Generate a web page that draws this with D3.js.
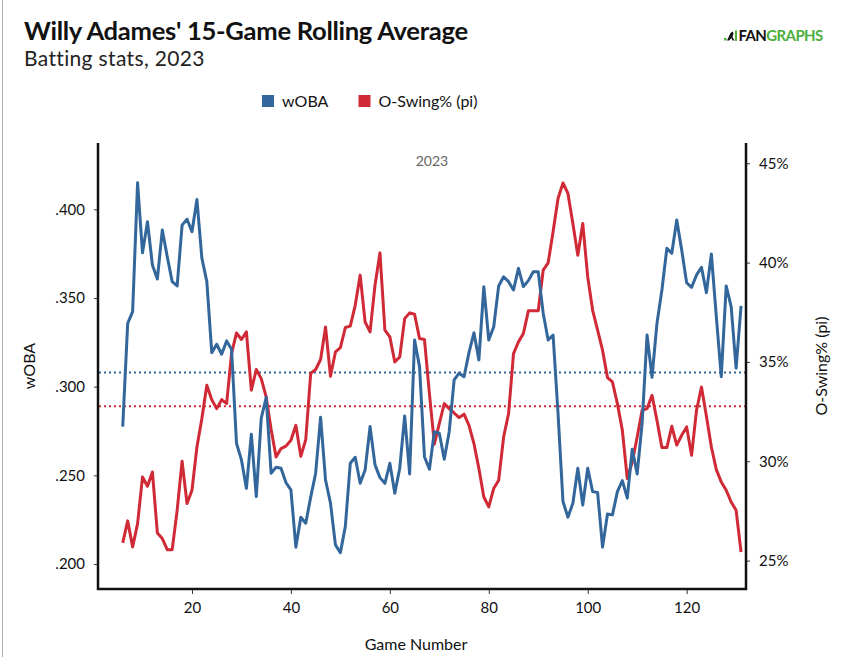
<!DOCTYPE html>
<html>
<head>
<meta charset="utf-8">
<script src="https://cdn.jsdelivr.net/npm/d3@7"></script>
<style>
  html, body { margin: 0; padding: 0; background: #fff; }
  svg { display: block; font-family: Lato, "Open Sans", sans-serif; }
</style>
</head>
<body>
<svg id="chart" width="849" height="657"></svg>
<script>
// ---- Data ----
const games = d3.range(6, 132); // games 6..131
const woba = [
  .2775, .3357, .3423, .415, .3755, .393, .3686, .3607, .3883, .3733,
  .3592, .3568, .3911, .3944, .3874, .4056, .3724, .3592, .3192, .3239,
  .3183, .3258, .3211, .2681, .2587, .2427, .2732, .238, .2822, .294,
  .2512, .2546, .254, .2459, .2418, .2095, .2264, .223, .2377, .2512,
  .2827, .2474, .2343, .2108, .2064, .2211, .2568, .2602, .2455, .253,
  .2775, .2559, .2487, .2455, .2568, .2399, .254, .2835, .2508, .3263,
  .3113, .2605, .2534, .2746, .2737, .2591, .2746, .3038, .3076, .3056,
  .3192, .3304, .3151, .3564, .3263, .3338, .3568, .362, .3592, .3545,
  .3667, .3564, .3598, .3648, .3648, .3414, .3263, .3291, .285, .2352,
  .2264, .2343, .254, .2333, .254, .2408, .2403, .2095, .2282, .2277,
  .2408, .247, .2371, .2647, .2508, .2794, .3291, .3053, .3357, .3545,
  .378, .3752, .394, .3771, .3586, .356, .363, .3673, .353, .3748,
  .3395, .3056, .3568, .3451, .3104, .3455
];
const oswing = [
  25.89, 27.0, 25.69, 26.86, 29.21, 28.74, 29.46, 26.39, 26.11, 25.55,
  25.55, 27.53, 30.0, 27.87, 28.54, 30.72, 32.15, 33.83, 33.1, 32.65,
  33.1, 32.9, 35.42, 36.46, 36.13, 36.51, 33.58, 34.62, 34.16, 33.24,
  31.6, 30.22, 30.64, 30.76, 31.06, 31.81, 30.25, 31.09, 34.42, 34.62,
  35.12, 36.76, 34.28, 35.5, 35.72, 36.73, 36.8, 37.85, 39.37, 37.01,
  36.51, 38.86, 40.49, 36.6, 36.26, 35.0, 35.25, 37.18, 37.47, 37.4,
  36.18, 36.13, 33.41, 30.86, 31.9, 32.9, 32.65, 32.43, 32.2, 32.37,
  31.81, 30.89, 29.63, 28.2, 27.7, 28.63, 29.04, 31.22, 32.4, 35.42,
  36.01, 36.43, 37.57, 37.57, 37.57, 39.62, 39.99, 41.55, 43.23, 44.01,
  43.48, 41.97, 40.37, 41.97, 39.28, 37.6, 36.6, 35.59, 34.21, 33.99,
  32.9, 31.56, 29.13, 29.96, 31.22, 32.57, 32.65, 33.32, 32.06, 30.69,
  30.69, 31.76, 30.81, 31.31, 31.73, 30.3, 32.57, 33.74, 32.27, 30.72,
  29.58, 28.96, 28.54, 27.95, 27.53, 25.43
];
const wobaAvg = 0.308;
const oswingAvg = 32.77;
const xTicks = [20, 40, 60, 80, 100, 120];
const leftTicks = [0.200, 0.250, 0.300, 0.350, 0.400];
const rightTicks = [25, 30, 35, 40, 45];
const seriesNames = ["wOBA", "O-Swing% (pi)"];

// ---- Styles ----
const BLUE = "#33679b";
const RED = "#d02a37";
const GREEN = "#4caf3c";
const svg = d3.select("#chart");

// left grey border
svg.append("line").attr("x1", 2.5).attr("x2", 2.5).attr("y1", 0).attr("y2", 657)
  .attr("stroke", "#aaa").attr("stroke-width", 1);

// ---- Scales ----
const x = d3.scaleLinear().domain([1, 132]).range([98, 746]);
const yL = d3.scaleLinear().domain([0.1859, 0.4374]).range([589, 143]);
const yR = d3.scaleLinear().domain([23.57, 46.02]).range([589, 143]);

// ---- Titles ----
svg.append("text").attr("x", 24).attr("y", 40)
  .attr("font-size", 25.6).attr("font-weight", "bold").attr("fill", "#111")
  .attr("letter-spacing", -0.3)
  .text("Willy Adames' 15-Game Rolling Average");
svg.append("text").attr("x", 24).attr("y", 66)
  .attr("font-size", 21).attr("fill", "#222").attr("letter-spacing", 0.35)
  .text("Batting stats, 2023");

// FanGraphs logo
const logo = svg.append("g").attr("transform", "translate(724,29)");
logo.append("rect").attr("x", 0).attr("y", 9).attr("width", 2.5).attr("height", 2.5).attr("fill", GREEN);
logo.append("path").attr("d", "M3,11.5 L6.5,4 L8.5,2.5 L9.5,4.5 L8.5,8 L10.5,11.5 L8.5,11.5 L7.3,9 L5.3,11.5 Z").attr("fill", "#111");
logo.append("rect").attr("x", 11).attr("y", 1.5).attr("width", 2).attr("height", 10.5).attr("fill", GREEN);
const lt = logo.append("text").attr("x", 14.5).attr("y", 12)
  .attr("font-size", 15).attr("font-weight", "bold").attr("letter-spacing", -0.6);
lt.append("tspan").attr("fill", "#111").text("FAN");
lt.append("tspan").attr("fill", GREEN).text("GRAPHS");

// ---- Legend ----
const legend = svg.append("g");
const legX = [262, 358.5];
const legColors = [BLUE, RED];
seriesNames.forEach((n, i) => {
  legend.append("rect").attr("x", legX[i]).attr("y", 95).attr("width", 12).attr("height", 12).attr("fill", legColors[i]);
  legend.append("text").attr("x", legX[i] + 20).attr("y", 106.5).attr("font-size", 16).attr("fill", "#111").text(n);
});

// "2023" label
svg.append("text").attr("x", 432).attr("y", 166).attr("text-anchor", "middle")
  .attr("font-size", 14).attr("fill", "#666").text("2023");

// ---- Reference lines ----
svg.append("line").attr("x1", 99).attr("x2", 745).attr("y1", yL(wobaAvg)).attr("y2", yL(wobaAvg))
  .attr("stroke", BLUE).attr("stroke-width", 2).attr("stroke-dasharray", "2,3");
svg.append("line").attr("x1", 99).attr("x2", 745).attr("y1", yR(oswingAvg)).attr("y2", yR(oswingAvg))
  .attr("stroke", RED).attr("stroke-width", 2).attr("stroke-dasharray", "2,3");

// ---- Lines ----
const lineL = d3.line().x((d, i) => x(games[i])).y(d => yL(d));
const lineR = d3.line().x((d, i) => x(games[i])).y(d => yR(d));
svg.append("path").datum(oswing).attr("d", lineR).attr("fill", "none")
  .attr("stroke", RED).attr("stroke-width", 3).attr("stroke-linejoin", "round");
svg.append("path").datum(woba).attr("d", lineL).attr("fill", "none")
  .attr("stroke", BLUE).attr("stroke-width", 3).attr("stroke-linejoin", "round");

// ---- Axes ----
const fmtL = d => d3.format(".3f")(d).replace(/^0/, "");
const axL = svg.append("g").attr("transform", "translate(98,0)")
  .call(d3.axisLeft(yL).tickValues(leftTicks).tickFormat(fmtL).tickSize(4).tickPadding(9));
const axR = svg.append("g").attr("transform", "translate(746,0)")
  .call(d3.axisRight(yR).tickValues(rightTicks).tickFormat(d => d + "%").tickSize(4).tickPadding(9));
const axB = svg.append("g").attr("transform", "translate(0,589)")
  .call(d3.axisBottom(x).tickValues(xTicks).tickSize(5).tickPadding(8));
[axL, axR, axB].forEach(a => {
  a.select(".domain").remove();
  a.selectAll(".tick line").attr("stroke", "#333");
  a.selectAll(".tick text").attr("font-family", "Lato, sans-serif").attr("font-size", 15).attr("fill", "#111");
});
// axis lines
svg.append("line").attr("x1", 98).attr("x2", 98).attr("y1", 143).attr("y2", 590).attr("stroke", "#111").attr("stroke-width", 2.5);
svg.append("line").attr("x1", 746).attr("x2", 746).attr("y1", 143).attr("y2", 590).attr("stroke", "#111").attr("stroke-width", 2.5);
svg.append("line").attr("x1", 97).attr("x2", 747).attr("y1", 589).attr("y2", 589).attr("stroke", "#111").attr("stroke-width", 2.5);

// axis titles
svg.append("text").attr("transform", "translate(35,366) rotate(-90)").attr("text-anchor", "middle")
  .attr("font-size", 16).attr("fill", "#111").text("wOBA");
svg.append("text").attr("transform", "translate(827,366) rotate(-90)").attr("text-anchor", "middle")
  .attr("font-size", 16).attr("fill", "#111").text("O-Swing% (pi)");
svg.append("text").attr("x", 416).attr("y", 650).attr("text-anchor", "middle")
  .attr("font-size", 16).attr("fill", "#111").text("Game Number");
</script>
</body>
</html>
